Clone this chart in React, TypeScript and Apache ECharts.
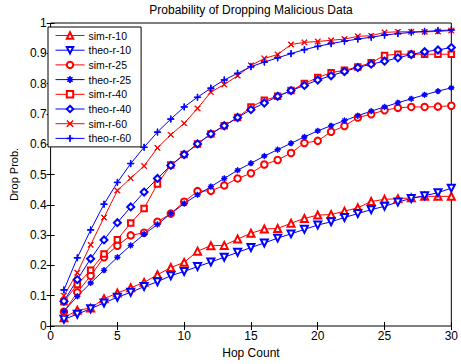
import React, { useEffect, useRef } from "react";
import * as echarts from "echarts";

const hops = [1, 2, 3, 4, 5, 6, 7, 8, 9, 10, 11, 12, 13, 14, 15, 16, 17, 18, 19, 20, 21, 22, 23, 24, 25, 26, 27, 28, 29, 30];

const simR10 = [0.027, 0.052, 0.059, 0.09, 0.109, 0.126, 0.144, 0.169, 0.193, 0.21, 0.247, 0.265, 0.266, 0.287, 0.306, 0.32, 0.322, 0.339, 0.355, 0.366, 0.368, 0.379, 0.39, 0.411, 0.418, 0.42, 0.423, 0.428, 0.428, 0.428];
const theoR10 = [0.022, 0.039, 0.057, 0.076, 0.095, 0.111, 0.13, 0.146, 0.166, 0.18, 0.196, 0.211, 0.227, 0.243, 0.259, 0.274, 0.29, 0.304, 0.319, 0.333, 0.344, 0.358, 0.371, 0.384, 0.395, 0.409, 0.421, 0.43, 0.44, 0.455];
const simR25 = [0.047, 0.111, 0.166, 0.227, 0.265, 0.299, 0.308, 0.344, 0.371, 0.41, 0.445, 0.446, 0.464, 0.487, 0.504, 0.533, 0.548, 0.571, 0.604, 0.611, 0.641, 0.66, 0.688, 0.699, 0.712, 0.72, 0.723, 0.723, 0.724, 0.727];
const theoR25 = [0.049, 0.098, 0.142, 0.184, 0.227, 0.266, 0.303, 0.335, 0.371, 0.404, 0.433, 0.46, 0.487, 0.514, 0.537, 0.561, 0.582, 0.603, 0.624, 0.644, 0.661, 0.678, 0.694, 0.709, 0.723, 0.737, 0.75, 0.763, 0.775, 0.786];
const simR40 = [0.08, 0.137, 0.184, 0.238, 0.285, 0.34, 0.388, 0.469, 0.531, 0.566, 0.601, 0.634, 0.661, 0.688, 0.723, 0.745, 0.758, 0.777, 0.8, 0.82, 0.836, 0.844, 0.855, 0.869, 0.893, 0.897, 0.897, 0.897, 0.897, 0.897];
const theoR40 = [0.082, 0.153, 0.222, 0.284, 0.341, 0.393, 0.442, 0.487, 0.53, 0.566, 0.601, 0.634, 0.661, 0.688, 0.714, 0.736, 0.758, 0.777, 0.794, 0.812, 0.826, 0.84, 0.853, 0.864, 0.874, 0.885, 0.896, 0.905, 0.911, 0.919];
const simR60 = [0.1, 0.176, 0.268, 0.358, 0.447, 0.488, 0.528, 0.588, 0.631, 0.669, 0.718, 0.772, 0.797, 0.826, 0.86, 0.883, 0.896, 0.929, 0.936, 0.939, 0.943, 0.947, 0.956, 0.958, 0.969, 0.971, 0.971, 0.971, 0.972, 0.975];
const theoR60 = [0.119, 0.225, 0.317, 0.402, 0.474, 0.536, 0.59, 0.64, 0.683, 0.723, 0.755, 0.785, 0.812, 0.834, 0.856, 0.871, 0.885, 0.899, 0.912, 0.923, 0.932, 0.94, 0.947, 0.953, 0.96, 0.965, 0.969, 0.972, 0.975, 0.977];

const seriesNames = ["sim-r-10", "theo-r-10", "sim-r-25", "theo-r-25", "sim-r-40", "theo-r-40", "sim-r-60", "theo-r-60"];

const PLUS = "path://M4.5,0 L5.5,0 L5.5,4.5 L10,4.5 L10,5.5 L5.5,5.5 L5.5,10 L4.5,10 L4.5,5.5 L0,5.5 L0,4.5 L4.5,4.5 Z";
const CROSS = "path://M0,0.8 L0.8,0 L10,9.2 L9.2,10 Z M9.2,0 L10,0.8 L0.8,10 L0,9.2 Z";
const STAR = "path://M4.4,0 L5.6,0 L5.6,4.4 L10,4.4 L10,5.6 L5.6,5.6 L5.6,10 L4.4,10 L4.4,5.6 L0,5.6 L0,4.4 L4.4,4.4 Z M1.2,1.9 L1.9,1.2 L8.8,8.1 L8.1,8.8 Z M8.1,1.2 L8.8,1.9 L1.9,8.8 L1.2,8.1 Z";

const RED = "#ff0000";
const BLUE = "#0000ff";

export default function App() {
  const ref = useRef<HTMLDivElement>(null);
  useEffect(() => {
    if (!ref.current) return;
    const chart = echarts.init(ref.current, undefined, { renderer: "svg" });
    const font = "'Liberation Sans', Arial, Helvetica, sans-serif";
    const pairs = (vals: number[]) => hops.map((h, i) => [h, vals[i]]);
    const mk = (name: string, vals: number[], color: string, symbol: string, size: number, rotate = 0) => ({
      name,
      type: "line",
      data: pairs(vals),
      symbol,
      symbolSize: size,
      symbolRotate: rotate,
      color,
      lineStyle: { color, width: 1 },
      itemStyle: { color, borderColor: color, borderWidth: 1 },
      emphasis: { disabled: true },
      xAxisIndex: 0,
      yAxisIndex: 0,
    });
    const axisCommon = {
      splitLine: { show: false },
      axisLine: { show: false },
      axisTick: { show: true, inside: true, length: 4, lineStyle: { color: "#000", width: 1 } },
    };
    chart.setOption({
      animation: false,
      backgroundColor: "#fff",
      title: {
        text: "Probability of Dropping Malicious Data",
        left: 251,
        top: 4,
        padding: 0,
        textAlign: "center",
        textStyle: { fontFamily: font, fontSize: 12, fontWeight: "normal", color: "#000" },
      },
      grid: {
        left: 47,
        right: 4.5,
        top: 23,
        bottom: 33,
        show: true,
        borderColor: "#000",
        borderWidth: 1,
        backgroundColor: "transparent",
      },
      legend: {
        data: seriesNames,
        orient: "vertical",
        left: 48,
        top: 27,
        itemWidth: 29,
        itemHeight: 8,
        itemGap: 3.7,
        padding: [3, 10, 3, 7],
        backgroundColor: "#fff",
        borderColor: "#000",
        borderWidth: 1,
        borderRadius: 0,
        itemStyle: { borderWidth: 1 },
        lineStyle: { width: 1 },
        textStyle: { fontFamily: font, fontSize: 10.5, color: "#000", padding: [0, 0, 0, -1] },
        selectedMode: false,
      },
      xAxis: [
        {
          type: "value",
          min: 0,
          max: 30,
          interval: 5,
          name: "Hop Count",
          nameLocation: "middle",
          nameGap: 21,
          nameTextStyle: { fontFamily: font, fontSize: 12, color: "#000" },
          axisLabel: { fontFamily: font, fontSize: 12, color: "#000", margin: 4 },
          ...axisCommon,
        },
        {
          type: "value",
          position: "top",
          min: 0,
          max: 30,
          interval: 5,
          axisLabel: { show: false },
          ...axisCommon,
        },
      ],
      yAxis: [
        {
          type: "value",
          min: 0,
          max: 1,
          interval: 0.1,
          name: "Drop Prob.",
          nameLocation: "middle",
          nameGap: 31,
          nameTextStyle: { fontFamily: font, fontSize: 11, color: "#000" },
          axisLabel: { fontFamily: font, fontSize: 12, color: "#000", margin: 4 },
          ...axisCommon,
        },
        {
          type: "value",
          position: "right",
          min: 0,
          max: 1,
          interval: 0.1,
          axisLabel: { show: false },
          ...axisCommon,
        },
      ],
      series: [
        mk("sim-r-10", simR10, RED, "emptyTriangle", 7),
        mk("theo-r-10", theoR10, BLUE, "emptyTriangle", 7, 180),
        mk("sim-r-25", simR25, RED, "emptyCircle", 6.5),
        mk("theo-r-25", theoR25, BLUE, STAR, 5.5),
        mk("sim-r-40", simR40, RED, "emptyRect", 5.5),
        mk("theo-r-40", theoR40, BLUE, "emptyDiamond", 7),
        mk("sim-r-60", simR60, RED, CROSS, 5.5),
        mk("theo-r-60", theoR60, BLUE, PLUS, 6.5),
      ],
    });
    return () => chart.dispose();
  }, []);
  return (
    <div
      ref={ref}
      style={{ position: "absolute", left: 0, top: 0, width: 461, height: 364, background: "#fff" }}
    />
  );
}
